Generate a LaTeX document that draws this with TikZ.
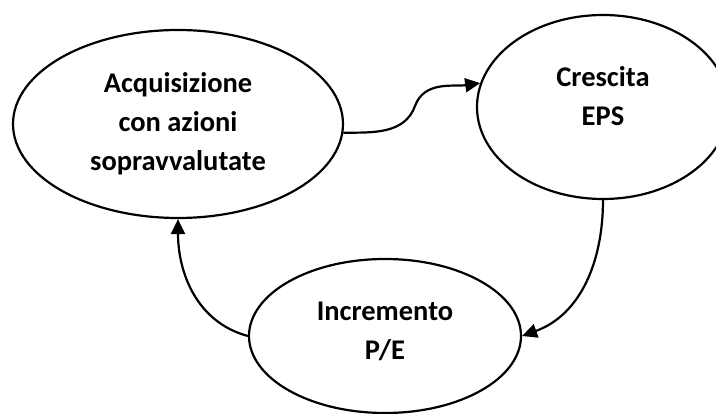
\documentclass[tikz,border=0pt]{standalone}
\usepackage{fontspec}
\setmainfont{Carlito}
\usetikzlibrary{arrows.meta,shapes.geometric}
\begin{document}
\begin{tikzpicture}[x=1pt,y=1pt,
  bubble/.style={draw,line width=2.2pt,ellipse,inner sep=0pt},
  caption/.style={font=\bfseries\fontsize{28.5}{39}\selectfont,align=center,inner sep=0pt},
  link/.style={line width=2.2pt,-{Triangle[length=15pt,width=14pt]}}]
\clip (0,0) rectangle (716,-414);
\fill[white] (0,0) rectangle (716,-414);

% the three stages of the cycle
\node[bubble,minimum width=330pt,minimum height=188pt] (acq) at (178,-124) {};
\node[bubble,minimum width=252pt,minimum height=184pt] (eps) at (603,-107) {};
\node[bubble,minimum width=272pt,minimum height=154pt] (pe)  at (385,-336) {};

\node[caption] (acqtext) at (acq.center) {Acquisizione\\con azioni\\sopravvalutate};
\node[caption] (epstext) at ([yshift=11pt]eps.center) {Crescita\\EPS};
\node[caption] (petext)  at ([yshift=5pt]pe.center) {Incremento\\P/E};

% connectors
\coordinate (kink) at (415,-106);
\draw[line width=2.2pt] (acq.-3) to[out=0,in=250] (kink);
\draw[link] (kink) to[out=70,in=188] (eps.169);
\draw[link] (eps.south) to[out=-90,in=20] (pe.east);
\draw[link] (pe.west) to[out=165,in=-90] (acq.south);
\end{tikzpicture}
\end{document}
